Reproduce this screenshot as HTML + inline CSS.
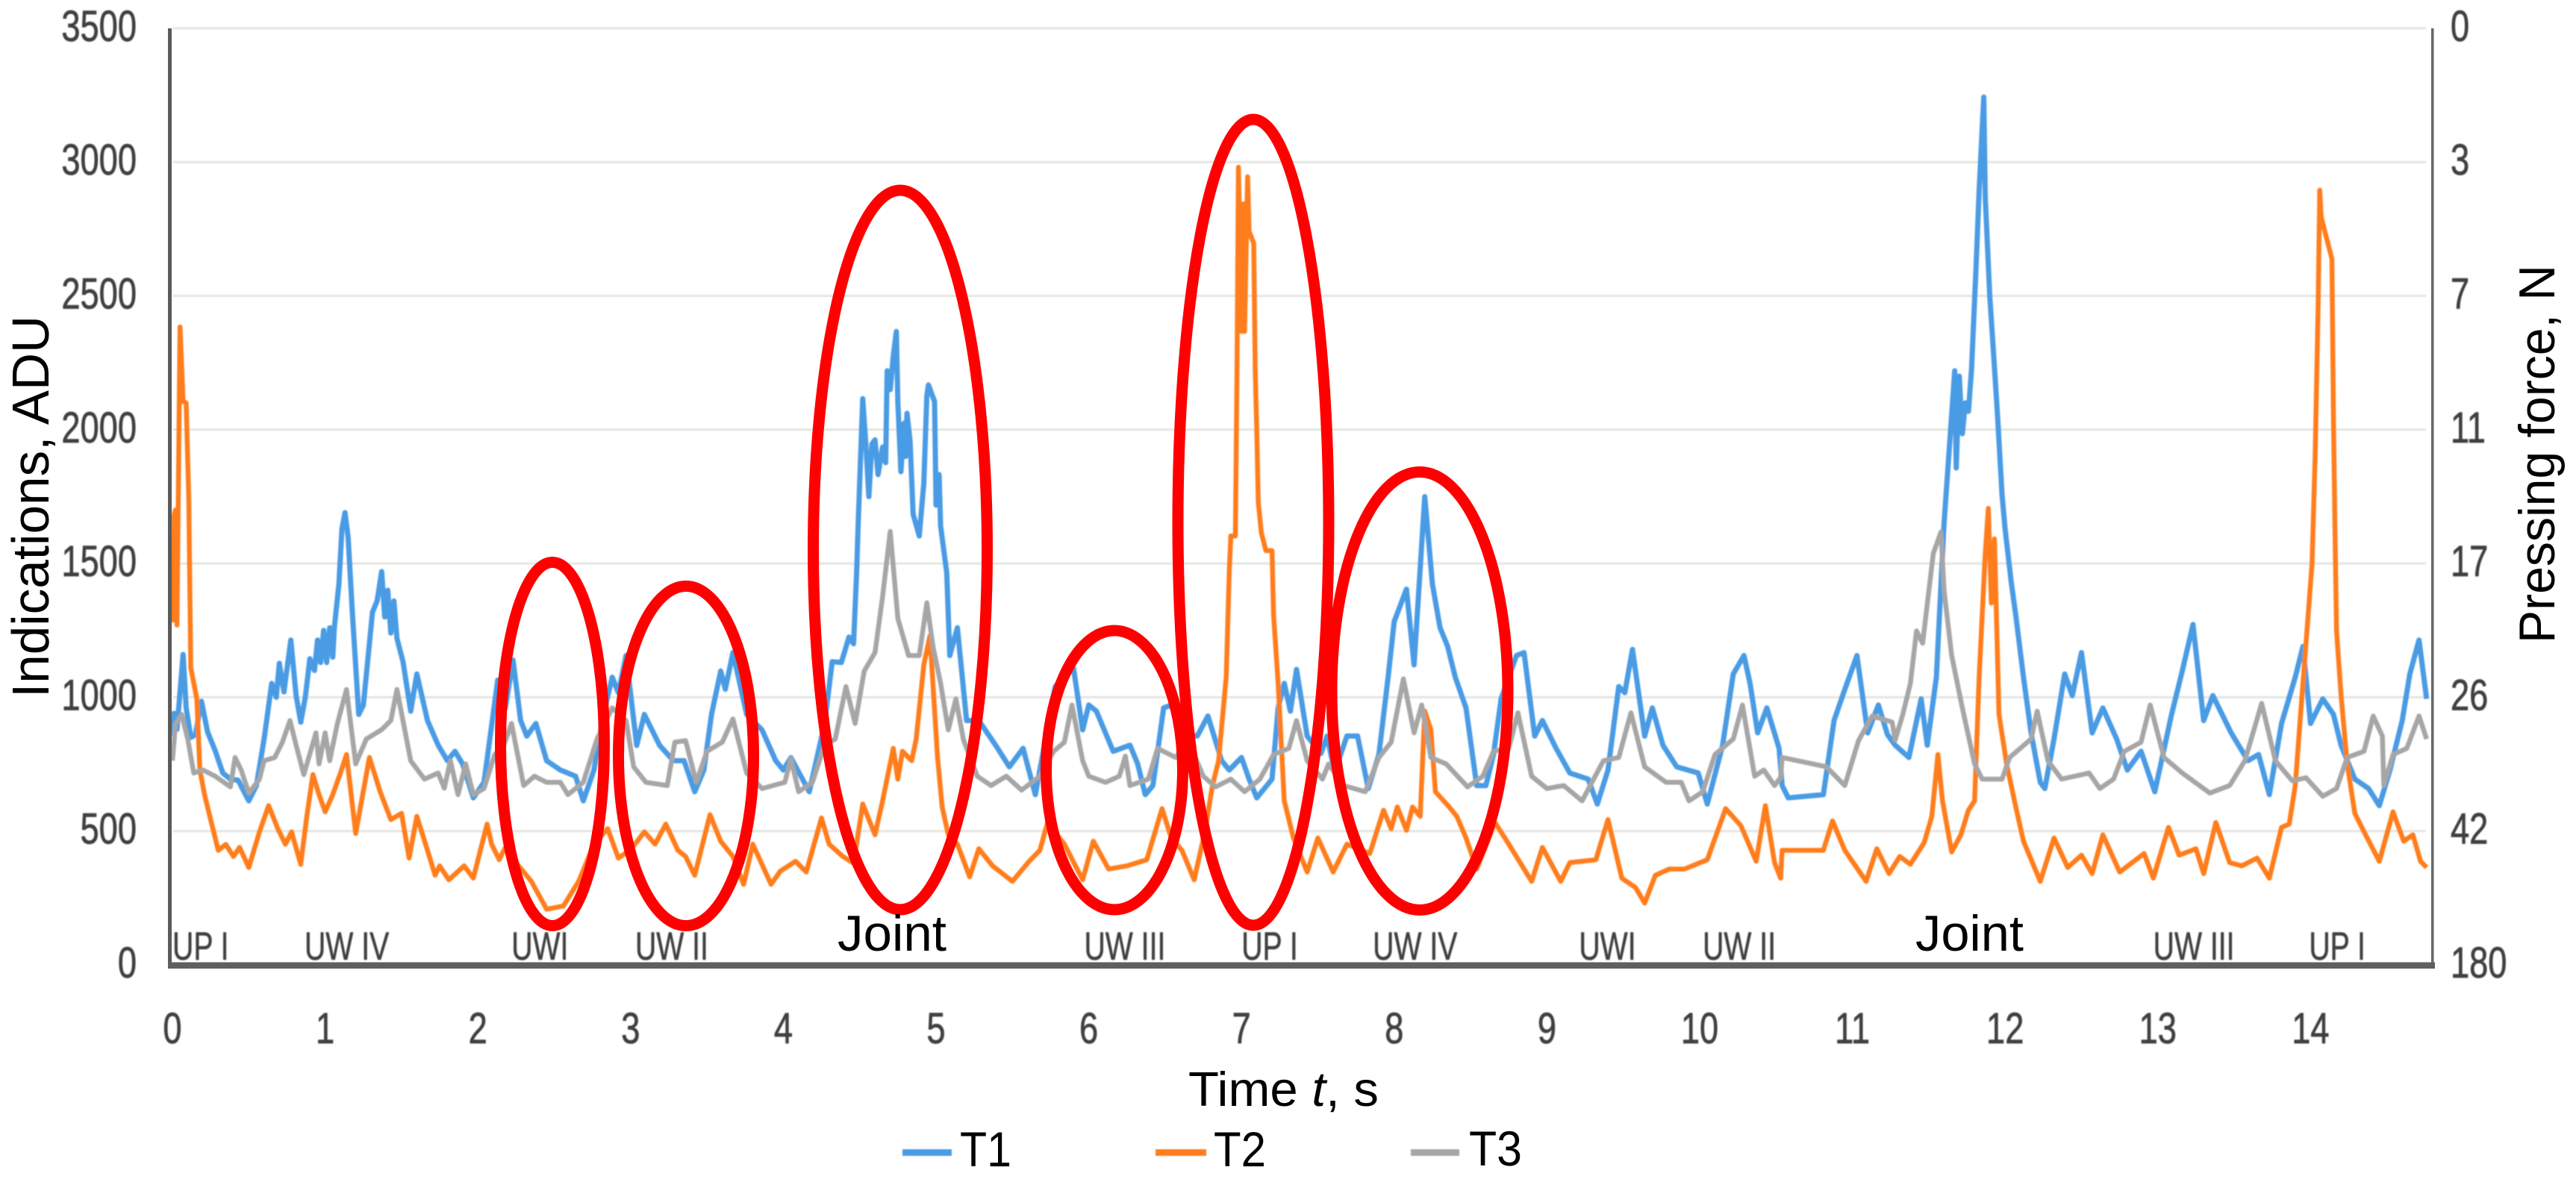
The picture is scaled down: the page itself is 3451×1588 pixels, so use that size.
<!DOCTYPE html>
<html lang="en">
<head>
<meta charset="utf-8">
<title>Indications and pressing force over time</title>
<style>
html,body{margin:0;padding:0;background:#fff;}
svg{display:block;font-family:"Liberation Sans",sans-serif;}
</style>
</head>
<body>
<svg id="chart" xmlns="http://www.w3.org/2000/svg" width="3451" height="1588" viewBox="0 0 3451 1588">
<defs>
<filter id="soft" x="-2%" y="-2%" width="104%" height="104%"><feGaussianBlur stdDeviation="0.9"/></filter>
<filter id="softText" x="-5%" y="-5%" width="110%" height="110%"><feGaussianBlur stdDeviation="0.8"/></filter>
</defs>
<rect x="0" y="0" width="3451" height="1588" fill="#ffffff"/>
<g id="grid"></g>
<g id="series" filter="url(#soft)"></g>
<g id="axes">
<rect x="225" y="38" width="5" height="1258" fill="#5a5a5a"/>
<rect x="3257" y="38" width="3.5" height="1258" fill="#666666"/>
<rect x="225" y="1289.5" width="3037" height="8.5" fill="#5f5f5f"/>
</g>
<g id="ticks" filter="url(#softText)" fill="#3f3f3f" stroke="#3f3f3f" stroke-width="0.8"></g>
<g id="phases" filter="url(#softText)" fill="#404040" stroke="#404040" stroke-width="0.6"></g>
<g fill="none" stroke="#ff0000" stroke-width="15">
<ellipse cx="740" cy="997" rx="69.5" ry="243.5"/>
<ellipse cx="919" cy="1013" rx="90.5" ry="227.5"/>
<ellipse cx="1206" cy="737" rx="116.5" ry="482"/>
<ellipse cx="1493" cy="1032" rx="91.5" ry="187"/>
<ellipse cx="1679" cy="700" rx="101" ry="540"/>
<ellipse cx="1902" cy="926" rx="118" ry="293.5"/>
</g>
<text x="1122" y="1274" font-size="68" fill="#000" textLength="146" lengthAdjust="spacingAndGlyphs">Joint</text>
<text x="2566" y="1274" font-size="68" fill="#000" textLength="145" lengthAdjust="spacingAndGlyphs">Joint</text>
<text transform="translate(65,935) rotate(-90)" font-size="70" fill="#000" textLength="512" lengthAdjust="spacingAndGlyphs">Indications, ADU</text>
<text transform="translate(3422,862) rotate(-90)" font-size="68" fill="#000" textLength="507" lengthAdjust="spacingAndGlyphs">Pressing force, N</text>
<text x="1592" y="1482" font-size="65" fill="#000" textLength="255" lengthAdjust="spacingAndGlyphs">Time <tspan font-style="italic">t</tspan>, s</text>
<g>
<rect x="1209" y="1540" width="66" height="9" fill="#4a9be4" filter="url(#soft)"/>
<text x="1286" y="1563" font-size="66" fill="#000" textLength="69" lengthAdjust="spacingAndGlyphs">T1</text>
<rect x="1548" y="1540" width="68" height="9" fill="#ff7d1a" filter="url(#soft)"/>
<text x="1626" y="1563" font-size="66" fill="#000" textLength="70" lengthAdjust="spacingAndGlyphs">T2</text>
<rect x="1890" y="1540" width="65" height="9" fill="#a6a6a6" filter="url(#soft)"/>
<text x="1968" y="1562" font-size="66" fill="#000" textLength="71" lengthAdjust="spacingAndGlyphs">T3</text>
</g>
</svg>
<script>
const leftTicks = [0, 500, 1000, 1500, 2000, 2500, 3000, 3500];
const rightTickLabels = ["180", "42", "26", "17", "11", "7", "3", "0"];
const timeTicks = [0, 1, 2, 3, 4, 5, 6, 7, 8, 9, 10, 11, 12, 13, 14];
const phaseNames = ["UP I", "UW IV", "UWI", "UW II", "UW III", "UP I", "UW IV", "UWI", "UW II", "UW III", "UP I"];
const phaseStarts = [0.0, 0.865, 2.22, 3.03, 5.97, 7.0, 7.86, 9.21, 10.02, 12.97, 13.99];

const t1Times = [
0,.01,.03,.07,.09,.12,.15,.19,.23,.28,
.33,.38,.43,.5,.55,.6,.65,.68,.7,.73,
.775,.81,.84,.87,.9,.93,.95,.97,.99,1.01,
1.03,1.05,1.06,1.09,1.11,1.13,1.15,1.18,1.22,1.25,
1.31,1.34,1.37,1.39,1.41,1.43,1.45,1.47,1.51,1.56,
1.6,1.67,1.74,1.8,1.85,1.9,1.97,2.04,2.13,2.18,
2.23,2.28,2.32,2.38,2.45,2.54,2.64,2.69,2.76,2.82,
2.88,2.92,2.97,3.04,3.09,3.19,3.28,3.35,3.42,3.48,
3.53,3.59,3.62,3.67,3.76,3.86,3.95,4.0,4.05,4.17,
4.27,4.32,4.38,4.43,4.46,4.48,4.49,4.52,4.54,4.56,
4.58,4.6,4.62,4.65,4.67,4.68,4.70,4.72,4.74,4.75,
4.77,4.79,4.8,4.81,4.83,4.85,4.89,4.92,4.94,4.95,
4.99,5.0,5.02,5.03,5.07,5.09,5.14,5.2,5.28,5.39,
5.48,5.57,5.65,5.78,5.9,5.96,6.0,6.05,6.16,6.27,
6.32,6.37,6.42,6.49,6.54,6.62,6.71,6.78,6.87,6.92,
7.0,7.05,7.1,7.2,7.24,7.28,7.32,7.36,7.43,7.52,
7.56,7.61,7.69,7.76,7.83,7.9,7.96,8.0,8.08,8.13,
8.2,8.25,8.3,8.35,8.4,8.47,8.54,8.6,8.65,8.7,
8.8,8.85,8.92,8.97,9.06,9.15,9.27,9.33,9.4,9.47,
9.51,9.56,9.64,9.69,9.76,9.85,9.99,10.05,10.15,10.22,
10.29,10.33,10.38,10.44,10.52,10.54,10.58,10.81,10.88,10.95,
11.03,11.1,11.17,11.23,11.28,11.37,11.45,11.49,11.55,11.6,
11.67,11.68,11.7,11.72,11.74,11.76,11.78,11.81,11.83,11.86,
11.87,11.9,11.92,11.95,11.98,12.0,12.04,12.07,12.12,12.17,
12.23,12.26,12.32,12.39,12.44,12.5,12.57,12.64,12.73,12.8,
12.89,12.98,13.09,13.16,13.23,13.3,13.36,13.48,13.59,13.66,
13.73,13.81,13.9,13.95,14.0,14.08,14.15,14.2,14.29,14.38,
14.45,14.52,14.6,14.65,14.71,14.76];
const t1Values = [
855,940,880,1160,960,850,860,985,870,800,
717,694,690,613,670,844,1052,1000,1127,1020,
1214,1006,907,1000,1144,1100,1214,1130,1250,1130,
1260,1150,1260,1422,1630,1690,1600,1300,936,971,
1318,1360,1470,1300,1400,1240,1360,1220,1133,948,
1087,913,821,763,798,751,624,682,1064,960,
1139,913,855,902,763,728,705,613,728,930,
1075,1017,1156,820,936,820,763,763,647,728,
936,1098,1030,1167,936,878,763,728,774,647,
900,1133,1130,1225,1200,1466,1650,2116,1946,1750,
1946,1962,1832,1935,1877,2220,2150,2275,2367,2105,
1843,2024,1900,2061,1958,1684,1603,1799,2128,2167,
2105,1718,1832,1640,1466,1156,1260,913,913,821,
740,809,636,1040,1110,878,971,948,798,821,
751,636,670,960,971,860,855,930,763,728,
775,694,624,694,960,1052,948,1104,855,790,
855,720,855,855,659,786,1075,1283,1404,1121,
1750,1422,1260,1190,1075,960,670,670,786,994,
1156,1167,855,913,809,717,694,601,728,1040,
1017,1179,855,960,820,740,717,601,820,1087,
1156,1052,867,960,809,670,624,636,913,1029,
1156,867,971,860,821,775,994,821,1075,1650,
2220,1857,2200,1985,2100,2069,2225,2610,2895,3243,
2867,2496,2325,2055,1757,1628,1430,1306,1075,867,
682,659,844,1087,1006,1167,867,960,844,728,
798,647,936,1098,1272,913,1006,867,763,786,
636,902,1075,1190,902,994,936,820,694,659,
595,728,913,1087,1214,994];

const t2Times = [
0,.01,.02,.03,.05,.07,.09,.107,.12,.16,
.18,.21,.26,.3,.35,.4,.44,.5,.57,.63,
.69,.74,.78,.84,.88,.92,.96,1.0,1.05,1.1,
1.14,1.2,1.29,1.36,1.43,1.5,1.55,1.6,1.67,1.72,
1.75,1.81,1.91,1.97,2.06,2.09,2.14,2.18,2.25,2.35,
2.45,2.56,2.66,2.76,2.85,2.92,3.0,3.09,3.16,3.23,
3.31,3.36,3.42,3.52,3.59,3.67,3.74,3.8,3.92,3.98,
4.08,4.15,4.25,4.3,4.39,4.46,4.52,4.6,4.65,4.72,
4.75,4.78,4.84,4.87,4.92,4.96,5.01,5.04,5.08,5.14,
5.22,5.28,5.37,5.5,5.61,5.68,5.73,5.84,5.96,6.03,
6.13,6.25,6.38,6.48,6.54,6.61,6.69,6.76,6.81,6.85,
6.9,6.92,6.93,6.96,6.97,6.98,7.0,7.01,7.02,7.04,
7.05,7.08,7.09,7.1,7.11,7.13,7.16,7.2,7.21,7.24,
7.28,7.34,7.43,7.5,7.6,7.69,7.84,7.93,7.98,8.02,
8.08,8.12,8.17,8.2,8.24,8.27,8.36,8.41,8.47,8.54,
8.66,8.75,8.9,8.97,9.09,9.15,9.32,9.4,9.49,9.58,
9.64,9.71,9.8,9.9,10.05,10.17,10.27,10.37,10.43,10.49,
10.53,10.54,10.81,10.87,10.95,11.09,11.16,11.24,11.31,11.38,
11.47,11.52,11.56,11.59,11.65,11.71,11.76,11.8,11.83,11.87,
11.89,11.91,11.93,11.96,12.01,12.07,12.12,12.23,12.32,12.41,
12.5,12.57,12.64,12.75,12.91,12.97,13.07,13.14,13.25,13.3,
13.38,13.47,13.55,13.65,13.73,13.81,13.86,13.9,13.93,13.99,
14.01,14.03,14.05,14.06,14.07,14.14,14.15,14.16,14.17,14.2,
14.24,14.29,14.36,14.45,14.54,14.61,14.67,14.72,14.76];
const t2Values = [
1280,1680,1700,1270,2384,2105,2100,1743,1110,994,
728,636,520,428,450,405,439,364,497,595,
509,451,497,376,555,711,636,572,636,717,
786,491,775,647,543,566,399,555,428,335,
370,318,370,324,526,451,393,439,382,312,
208,220,312,451,509,399,430,497,451,526,
428,405,335,561,462,405,301,451,301,350,
387,347,549,451,405,380,601,486,613,809,
694,798,763,844,1121,1230,775,590,486,451,
329,434,370,312,387,428,532,451,318,462,
358,370,393,584,474,428,318,497,670,763,
1075,1466,1603,1603,2197,2981,2367,2844,2367,2945,
2741,2697,2220,1991,1729,1615,1548,1548,1306,1052,
613,474,347,474,347,451,416,578,509,590,
503,590,555,948,879,647,590,555,474,358,
532,451,312,439,312,382,393,543,324,289,
231,335,358,358,393,584,520,387,595,382,
324,428,428,538,428,312,434,341,405,376,
457,555,786,613,422,486,578,613,1075,1538,
1706,1352,1592,936,751,590,462,312,474,364,
410,341,486,347,416,324,514,410,434,341,
532,382,370,399,324,514,526,670,902,1352,
1500,1899,2468,2895,2794,2638,2041,1630,1248,1006,
751,566,486,387,572,462,486,387,364];

const t3Times = [
0,.02,.06,.1,.14,.2,.28,.38,.41,.45,
.5,.57,.6,.67,.72,.77,.81,.86,.94,.96,
1.0,1.03,1.08,1.14,1.2,1.27,1.37,1.43,1.47,1.56,
1.65,1.74,1.78,1.82,1.87,1.92,1.97,2.04,2.11,2.17,
2.22,2.3,2.37,2.45,2.54,2.59,2.69,2.78,2.88,2.97,
3.02,3.1,3.24,3.29,3.36,3.43,3.5,3.6,3.67,3.76,
3.86,4.01,4.05,4.1,4.19,4.27,4.34,4.41,4.47,4.53,
4.6,4.65,4.7,4.75,4.82,4.89,4.94,4.98,5.03,5.08,
5.13,5.18,5.27,5.36,5.46,5.56,5.68,5.77,5.84,5.89,
5.96,6.0,6.11,6.2,6.24,6.27,6.39,6.45,6.57,6.65,
6.75,6.83,6.93,7.02,7.12,7.21,7.31,7.36,7.43,7.53,
7.57,7.67,7.81,7.9,7.98,8.06,8.13,8.18,8.24,8.34,
8.48,8.58,8.65,8.75,8.81,8.9,9.0,9.11,9.23,9.37,
9.47,9.55,9.64,9.78,9.88,9.93,10.02,10.1,10.22,10.28,
10.36,10.42,10.49,10.53,10.54,10.83,10.95,11.0,11.04,11.13,
11.26,11.28,11.33,11.38,11.42,11.46,11.53,11.58,11.6,11.65,
11.72,11.8,11.85,11.98,12.03,12.17,12.21,12.28,12.37,12.55,
12.62,12.71,12.78,12.89,12.95,13.04,13.16,13.34,13.47,13.57,
13.68,13.77,13.88,13.97,14.08,14.17,14.24,14.35,14.41,14.47,
14.48,14.54,14.63,14.71,14.76];
const t3Values = [
763,900,936,844,717,728,705,665,775,728,
642,694,763,775,832,913,821,711,867,751,
867,763,902,1029,751,844,879,913,1029,763,
694,717,660,763,636,751,636,659,786,821,
902,670,705,682,682,636,682,844,960,913,
740,682,670,832,838,682,798,832,919,717,
659,682,770,647,682,821,844,1040,902,1098,
1167,1376,1620,1295,1156,1156,1353,1190,1052,878,
994,840,705,670,705,653,705,798,832,971,
763,705,682,705,780,670,694,809,775,840,
705,665,694,647,694,786,809,913,763,694,
750,670,647,775,832,1069,867,971,775,751,
665,705,798,810,942,705,659,670,613,763,
775,942,740,682,682,613,647,786,844,971,
705,728,670,700,775,740,670,763,838,930,
907,840,936,1052,1248,1202,1538,1618,1400,1156,
960,751,694,694,775,844,948,763,694,717,
659,694,798,832,971,775,717,642,670,763,
977,763,688,699,630,659,775,798,930,855,
670,786,809,930,844];

const SVG_NS = 'http://www.w3.org/2000/svg';
const xScale = function (t) { return 231 + 204.6 * t; };
const yScale = function (v) { return 1293 - 0.3586 * v; };

const gridGroup = document.getElementById('grid');
leftTicks.forEach(function (v) {
  if (v === 0) return;
  const line = document.createElementNS(SVG_NS, 'line');
  
  
  line.setAttribute('x1', 232);
  line.setAttribute('x2', 3250);
  line.setAttribute('y1', yScale(v));
  line.setAttribute('y2', yScale(v));
  line.setAttribute('stroke', '#e9e9e6');
  line.setAttribute('stroke-width', 3.5);
  gridGroup.appendChild(line);
});

function drawSeries(times, values, color, width) {
  const pts = times.map(function (t, i) {
    return xScale(t).toFixed(1) + ',' + yScale(values[i]).toFixed(1);
  }).join(' ');
  const line = document.createElementNS(SVG_NS, 'polyline');
  line.setAttribute('points', pts);
  line.setAttribute('fill', 'none');
  line.setAttribute('stroke', color);
  line.setAttribute('stroke-width', width);
  line.setAttribute('stroke-linejoin', 'round');
  document.getElementById('series').appendChild(line);
  return line;
}
const lineT1 = drawSeries(t1Times, t1Values, '#4a9be4', 7);


const lineT2 = drawSeries(t2Times, t2Values, '#ff7d1a', 6.5);


const lineT3 = drawSeries(t3Times, t3Values, '#a6a6a6', 6.5);



function scaledText(parent, str, x, y, size, sx, anchor) {
  const el = document.createElementNS(SVG_NS, 'text');
  el.textContent = str;
  el.setAttribute('transform', 'translate(' + x + ',' + y + ') scale(' + sx + ',1)');
  el.setAttribute('font-size', size);
  el.setAttribute('text-anchor', anchor);
  parent.appendChild(el);
  return el;
}
const tickGroup = document.getElementById('ticks');
leftTicks.forEach(function (v) {
  const el = scaledText(tickGroup, String(v), 183, yScale(v) + 17, 58, 0.78, 'end');
  
  
});
rightTickLabels.forEach(function (label, i) {
  const el = scaledText(tickGroup, label, 3283, yScale(leftTicks[i]) + 17, 58, 0.78, 'start');
  
  
});
timeTicks.forEach(function (t) {
  const el = scaledText(tickGroup, String(t), xScale(t), 1398, 58, 0.78, 'middle');
  
  
});
const phaseGroup = document.getElementById('phases');
phaseNames.forEach(function (name, i) {
  const el = scaledText(phaseGroup, name, xScale(phaseStarts[i]), 1286, 53, 0.74, 'start');
  
  
});
</script>
</body>
</html>
